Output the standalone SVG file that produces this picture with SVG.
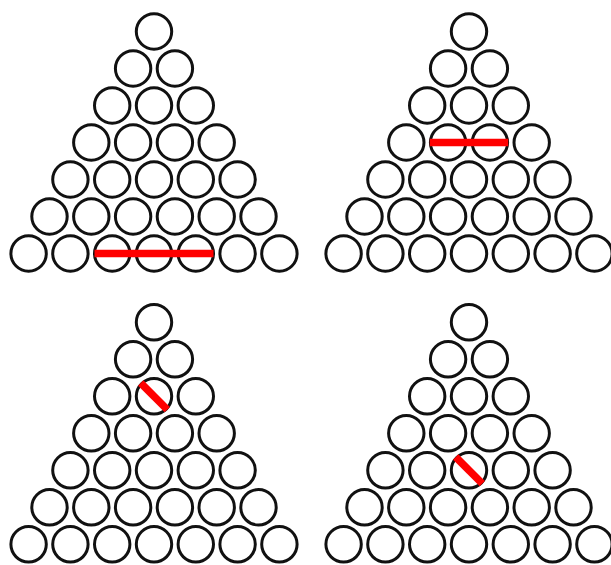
<svg xmlns="http://www.w3.org/2000/svg" xmlns:xlink="http://www.w3.org/1999/xlink" width="611" height="565" viewBox="0 0 611 565">
<style>
.c{fill:#fff;stroke:#111;stroke-width:3}
.r{stroke:#ff0000;stroke-width:7.5;stroke-linecap:butt}
</style>
<defs>
<g id="tri">
<circle class="c" cx="0" cy="0" r="17.7"/>
<circle class="c" cx="-20.9" cy="37" r="17.7"/><circle class="c" cx="20.9" cy="37" r="17.7"/>
<circle class="c" cx="-41.8" cy="74" r="17.7"/><circle class="c" cx="0" cy="74" r="17.7"/><circle class="c" cx="41.8" cy="74" r="17.7"/>
<circle class="c" cx="-62.7" cy="111" r="17.7"/><circle class="c" cx="-20.9" cy="111" r="17.7"/><circle class="c" cx="20.9" cy="111" r="17.7"/><circle class="c" cx="62.7" cy="111" r="17.7"/>
<circle class="c" cx="-83.6" cy="148" r="17.7"/><circle class="c" cx="-41.8" cy="148" r="17.7"/><circle class="c" cx="0" cy="148" r="17.7"/><circle class="c" cx="41.8" cy="148" r="17.7"/><circle class="c" cx="83.6" cy="148" r="17.7"/>
<circle class="c" cx="-104.5" cy="185" r="17.7"/><circle class="c" cx="-62.7" cy="185" r="17.7"/><circle class="c" cx="-20.9" cy="185" r="17.7"/><circle class="c" cx="20.9" cy="185" r="17.7"/><circle class="c" cx="62.7" cy="185" r="17.7"/><circle class="c" cx="104.5" cy="185" r="17.7"/>
<circle class="c" cx="-125.4" cy="222" r="17.7"/><circle class="c" cx="-83.6" cy="222" r="17.7"/><circle class="c" cx="-41.8" cy="222" r="17.7"/><circle class="c" cx="0" cy="222" r="17.7"/><circle class="c" cx="41.8" cy="222" r="17.7"/><circle class="c" cx="83.6" cy="222" r="17.7"/><circle class="c" cx="125.4" cy="222" r="17.7"/>
</g>
</defs>
<rect width="611" height="565" fill="#fff"/>
<g id="triangle-top-left">
<use href="#tri" xlink:href="#tri" transform="translate(154,31.5)"/>
<line class="r" x1="94.5" y1="253.5" x2="213.5" y2="253.5"/>
</g>
<g id="triangle-top-right">
<use href="#tri" xlink:href="#tri" transform="translate(469,31.5)"/>
<line class="r" x1="429.8" y1="142.5" x2="508.2" y2="142.5"/>
</g>
<g id="triangle-bottom-left">
<use href="#tri" xlink:href="#tri" transform="translate(154,322.3)"/>
<line class="r" x1="140.7" y1="383" x2="167.3" y2="409.6"/>
</g>
<g id="triangle-bottom-right">
<use href="#tri" xlink:href="#tri" transform="translate(469,322.3)"/>
<line class="r" x1="455.7" y1="457" x2="482.3" y2="483.6"/>
</g>
</svg>
